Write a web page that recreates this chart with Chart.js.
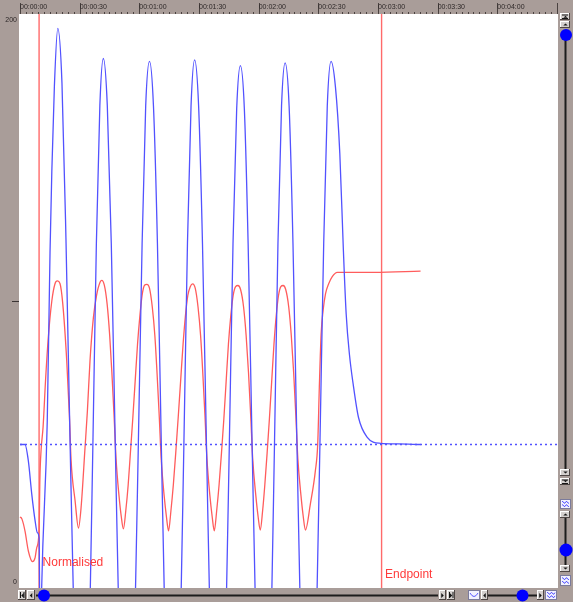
<!DOCTYPE html>
<html><head><meta charset="utf-8">
<script src="https://cdn.jsdelivr.net/npm/chart.js@4.4.0/dist/chart.umd.min.js"></script>
<style>html,body{margin:0;padding:0;background:#a99d99;overflow:hidden}canvas{display:block}</style>
</head><body>
<canvas id="c" width="573" height="602"></canvas>
<script>
// ---- data ----
const rulerTimes = [0, 30, 60, 90, 120, 150, 180, 210, 240];
const rulerLabels = ['00:00:00','00:00:30','00:01:00','00:01:30','00:02:00','00:02:30','00:03:00','00:03:30','00:04:00'];
const yTickValues = [0, 100, 200];
const yTickText = ['0', '', '200'];

const baselineTimes = [0, 270.5];
const baselineValues = [50, 50];

const blueTimes = [0,2.5,4.2,5.9,7.6,8.7,9.6,10.2,10.9,13.7,15.1,16.0,17.3,19.0,
21.1,23.1,25.2,27.3,29.3,31.4,
33.15,34.9,36.65,38.4,40.15,41.9,
43.9,45.9,47.9,49.9,51.9,53.9,
55.8,57.6,59.5,61.4,63.2,65.1,
67.1,69.1,71.05,73.0,75.0,77.0,
78.8,80.6,82.4,84.2,86.0,87.8,
89.8,91.75,93.75,95.7,97.7,99.7,
101.55,103.4,105.25,107.1,108.95,110.8,
112.8,114.7,116.7,118.7,120.6,122.6,
124.4,126.2,127.95,129.7,131.5,133.3,
135.3,137.25,139.25,141.2,143.2,145.2,
147.1,148.9,150.8,152.7,154.5,156.4,
158.6,160.8,162.6,164.0,165.7,167.5,170.2,174.6,181.3,190,201.4];
const blueValues = [50,50,44.3,32.8,23.4,19.3,17.5,-30,0,58,117,145,175,195,
176,122,50,-17,-66,-84,
-66,-17,50,120,168,184.5,
168,120,50,-17,-66,-84,
-66,-17,50,120,168,183.5,
168,120,50,-17,-66,-84,
-66,-17,50,120,168,184,
168,120,50,-17,-66,-84,
-66,-17,50,120,167,182,
167,120,50,-17,-66,-84,
-66,-17,50,120,168,183,
168,120,50,-17,-66,-84,
-66,-17,50,120,168,183.5,
174.6,151.4,117.6,95.5,81,71.1,59.4,52.5,50.4,50.2,50];

const redTimes = [0,1.0,2.5,4.2,6.3,7.6,8.4,9.6,10.0,10.6,11.6,12.9,14.2,16.0,17.6,18.8,
20.1,21.5,23.5,24.8,25.7,27.7,29.4,
30.7,32.7,33.9,35.2,36.9,38.5,40.3,41.1,
42.4,43.8,45.1,46.2,47.3,48.3,49.8,50.9,52.0,
53.2,54.4,55.5,56.7,57.9,59.1,60.3,61.4,62.6,63.8,
65.1,66.5,67.8,68.9,70.0,71.0,72.5,73.6,74.7,
75.9,77.1,78.3,79.5,80.75,82.0,83.2,84.4,85.6,86.8,
88.1,89.5,90.8,91.9,93.0,94.0,95.5,96.6,97.7,
98.9,100.1,101.3,102.5,103.65,104.8,106.0,107.2,108.4,109.6,
110.9,112.4,113.7,114.9,116.0,117.0,118.6,119.7,120.8,
122.0,123.1,124.25,125.4,126.55,127.7,128.85,130.0,131.15,132.3,
133.6,135.1,136.4,137.6,138.7,139.7,141.3,142.4,143.5,
146.0,148.5,149.7,150.5,151.4,152.4,153.6,155.2,157.0,159.5,178,201.4];
const redValues = [24.8,24,19.9,12.9,9.2,10.6,14,19.9,38,48,56,73,87,100,106,107,
106.1,99.1,79.2,60.7,44.3,30.4,20.9,
27.9,48.9,61.8,79.2,94.2,102,106.6,107.2,
105.5,99,88,75,60,45,32,25,20.6,
27,36,47,59,72,85,95,102,105.5,105.8,
104.5,98,88,75,60,45,32,25,19.9,
27,36,47,59,72,85,95,102,105,106,
104.5,98,88,75,60,45,32,25,19.9,
27,36,47,59,72,85,95,102,105,105.4,
104,98,88,75,60,45,32,25,20.2,
27,36,47,59,72,85,95,102,105,105.4,
104,98,88,75,60,45,32,25,20.2,
29.3,40.8,50.3,70,88.5,96.7,102.5,106,108.5,110,110,110.4];

const markerTimes = [9.6, 181.8];
const markerLabels = ['Normalised', 'Endpoint'];

// ---- styles ----
const GRAY = '#a99d99';
const BLUE = '#5252ff';
const RED = '#ff5c5c';
const markerLabelBaseline = [566, 578];

const pts = (xs, ys) => xs.map((x, i) => ({x, y: ys[i]}));

function raised(ctx, x, y, w, h) {
  ctx.fillStyle = '#d3cfcd'; ctx.fillRect(x, y, w, h);
  ctx.fillStyle = '#ffffff'; ctx.fillRect(x, y, w, 1); ctx.fillRect(x, y, 1, h);
  ctx.fillStyle = '#4e4644'; ctx.fillRect(x, y + h - 1, w, 1); ctx.fillRect(x + w - 1, y, 1, h);
}
function tri(ctx, cx, cy, dir, s) {
  ctx.fillStyle = '#151515'; ctx.beginPath();
  if (dir === 'up') { ctx.moveTo(cx - s, cy + s / 2); ctx.lineTo(cx + s, cy + s / 2); ctx.lineTo(cx, cy - s / 2); }
  if (dir === 'down') { ctx.moveTo(cx - s, cy - s / 2); ctx.lineTo(cx + s, cy - s / 2); ctx.lineTo(cx, cy + s / 2); }
  if (dir === 'left') { ctx.moveTo(cx + s / 2, cy - s); ctx.lineTo(cx + s / 2, cy + s); ctx.lineTo(cx - s / 2, cy); }
  if (dir === 'right') { ctx.moveTo(cx - s / 2, cy - s); ctx.lineTo(cx - s / 2, cy + s); ctx.lineTo(cx + s / 2, cy); }
  ctx.closePath(); ctx.fill();
}
function waveBtn(ctx, x, y, w, h, rows) {
  ctx.fillStyle = '#f2f2ff'; ctx.fillRect(x, y, w, h);
  ctx.strokeStyle = '#7b7b9c'; ctx.lineWidth = 1; ctx.strokeRect(x + 0.5, y + 0.5, w - 1, h - 1);
  ctx.strokeStyle = '#5a5aff'; ctx.lineWidth = 1;
  for (let r = 0; r < rows; r++) {
    const yy = y + h * (r + 1) / (rows + 1);
    ctx.beginPath();
    for (let i = 0; i <= w - 4; i++) {
      const px = x + 2 + i, py = yy + ((i % 4) < 2 ? -0.8 : 0.8);
      if (i === 0) ctx.moveTo(px, py); else ctx.lineTo(px, py);
    }
    ctx.stroke();
  }
}
function dot(ctx, cx, cy, r) {
  ctx.fillStyle = '#0000ff'; ctx.beginPath(); ctx.arc(cx, cy, r, 0, Math.PI * 2); ctx.fill();
}

const chromePlugin = {
  id: 'chrome',
  beforeDraw(chart) {
    const {ctx, chartArea: a} = chart;
    ctx.save();
    ctx.fillStyle = GRAY; ctx.fillRect(0, 0, chart.width, chart.height);
    ctx.fillStyle = '#ffffff'; ctx.fillRect(a.left, a.top, a.right - a.left, a.bottom - a.top);
    const xs = chart.scales.x;
    ctx.fillStyle = '#4a4240';
    xs.ticks.forEach(t => { const x = Math.round(xs.getPixelForValue(t.value)); ctx.fillRect(x, 3, 1, a.top - 3); });
    for (let s = 0; s <= xs.max; s += 3) {
      const x = Math.round(xs.getPixelForValue(s)); ctx.fillRect(x, a.top - 2, 1, 2);
    }
    ctx.restore();
  },
  beforeDatasetsDraw(chart) {
    const {ctx, chartArea: a} = chart;
    const xs = chart.scales.x;
    ctx.save();
    ctx.strokeStyle = 'rgba(255,90,90,0.9)'; ctx.lineWidth = 1.4;
    markerTimes.forEach(t => {
      const x = xs.getPixelForValue(t);
      ctx.beginPath(); ctx.moveTo(x, a.top); ctx.lineTo(x, a.bottom); ctx.stroke();
    });
    ctx.restore();
  },
  afterDatasetsDraw(chart) {
    const {ctx, chartArea: a} = chart;
    const xs = chart.scales.x;
    ctx.save();
    // marker labels
    ctx.fillStyle = '#ff3a3a'; ctx.font = '12px "Liberation Sans", Arial, sans-serif';
    ctx.textAlign = 'left'; ctx.textBaseline = 'alphabetic';
    markerTimes.forEach((t, i) => {
      ctx.fillText(markerLabels[i], xs.getPixelForValue(t) + 3.5, markerLabelBaseline[i]);
    });
    // frame bands
    ctx.fillStyle = GRAY;
    ctx.fillRect(0, a.bottom, chart.width, chart.height - a.bottom);
    ctx.fillRect(a.right, 0, chart.width - a.right, chart.height);
    // right column
    const rx = 560, rw = 10, cx = 565.5;
    ctx.fillStyle = '#1c1c1c';
    ctx.fillRect(cx - 1, 40, 2, 430);
    ctx.fillRect(cx - 1, 518, 2, 48);
    raised(ctx, rx, 13, rw, 7);
    ctx.fillStyle = '#151515'; ctx.fillRect(rx + 2, 14.5, 6, 1); ctx.fillRect(rx + 2, 18, 6, 1);
    tri(ctx, cx, 16.8, 'up', 2);
    raised(ctx, rx, 21, rw, 7); tri(ctx, cx, 24.5, 'up', 2.2);
    dot(ctx, 566, 35, 6);
    raised(ctx, rx, 469, rw, 7); tri(ctx, cx, 472.5, 'down', 2.2);
    raised(ctx, rx, 478, rw, 7);
    ctx.fillStyle = '#151515'; ctx.fillRect(rx + 2, 479.5, 6, 1); ctx.fillRect(rx + 2, 483, 6, 1);
    tri(ctx, cx, 481.3, 'down', 2);
    waveBtn(ctx, rx, 499, 11, 10, 2);
    raised(ctx, rx, 511, rw, 7); tri(ctx, cx, 514.5, 'up', 2.2);
    dot(ctx, 566, 550, 6.5);
    raised(ctx, rx, 565, rw, 7); tri(ctx, cx, 568.5, 'down', 2.2);
    waveBtn(ctx, rx, 575, 11, 11, 2);
    // bottom row
    const by = 590, bh = 10, cy = 595.5;
    ctx.fillStyle = '#1c1c1c';
    ctx.fillRect(36, cy - 1, 402, 2);
    ctx.fillRect(488, cy - 1, 50, 2);
    raised(ctx, 18, by, 8, bh);
    ctx.fillStyle = '#151515'; ctx.fillRect(20, by + 2, 1, 6); ctx.fillRect(23.5, by + 2, 1, 6);
    tri(ctx, 22.5, cy, 'left', 2.5);
    raised(ctx, 27, by, 8, bh); tri(ctx, 31, cy, 'left', 2.5);
    dot(ctx, 44, cy, 6);
    raised(ctx, 439, by, 7, bh); tri(ctx, 442.5, cy, 'right', 2.5);
    raised(ctx, 447, by, 8, bh);
    ctx.fillStyle = '#151515'; ctx.fillRect(449, by + 2, 1, 6); ctx.fillRect(452.5, by + 2, 1, 6);
    tri(ctx, 451, cy, 'right', 2.5);
    // wave (single curve) button
    ctx.fillStyle = '#f2f2ff'; ctx.fillRect(468, by, 12, bh);
    ctx.strokeStyle = '#7b7b9c'; ctx.lineWidth = 1; ctx.strokeRect(468.5, by + 0.5, 11, bh - 1);
    ctx.strokeStyle = '#5a5aff'; ctx.beginPath(); ctx.moveTo(470, by + 3); ctx.quadraticCurveTo(474, by + 10, 478, by + 3); ctx.stroke();
    raised(ctx, 481, by, 7, bh); tri(ctx, 484.5, cy, 'left', 2.5);
    dot(ctx, 522.5, cy, 6);
    raised(ctx, 537, by, 7, bh); tri(ctx, 540.5, cy, 'right', 2.5);
    waveBtn(ctx, 545, by, 12, bh, 2);
    ctx.restore();
  }
};

const tickFont = {family: '"Liberation Sans", Arial, sans-serif', size: 7};

new Chart(document.getElementById('c'), {
  type: 'line',
  data: {
    datasets: [
      {label: 'Baseline', data: pts(baselineTimes, baselineValues), borderColor: BLUE, borderWidth: 1.5,
       borderDash: [2, 3], pointRadius: 0, tension: 0},
      {label: 'Blue', data: pts(blueTimes, blueValues), borderColor: BLUE, borderWidth: 1.3,
       pointRadius: 0, cubicInterpolationMode: 'monotone'},
      {label: 'Red', data: pts(redTimes, redValues), borderColor: RED, borderWidth: 1.3,
       pointRadius: 0, cubicInterpolationMode: 'monotone'}
    ]
  },
  options: {
    responsive: false,
    devicePixelRatio: 1,
    animation: false,
    events: [],
    layout: {padding: {left: 0, right: 15, top: 0, bottom: 14}},
    plugins: {legend: {display: false}, tooltip: {enabled: false}},
    scales: {
      x: {
        type: 'linear', position: 'top', min: -0.5, max: 270.5,
        border: {display: false},
        grid: {display: false, drawTicks: false},
        afterFit(s) { s.height = 14; },
        ticks: {
          stepSize: 30, includeBounds: false, autoSkip: false, maxRotation: 0, minRotation: 0,
          align: 'start', padding: 3, color: '#2e2828', font: tickFont,
          callback: v => { const i = rulerTimes.indexOf(v); return i >= 0 ? rulerLabels[i] : ''; }
        }
      },
      y: {
        type: 'linear', position: 'left', min: 0, max: 200,
        border: {display: false},
        grid: {display: true, drawOnChartArea: false, drawTicks: true, tickLength: 7,
               tickColor: c => (c.tick && c.tick.value === 100) ? '#3a3434' : 'rgba(0,0,0,0)'},
        afterFit(s) { s.width = 19; },
        ticks: {
          stepSize: 100, autoSkip: false, padding: -5, color: '#2e2828',
          font: {family: '"Liberation Sans", Arial, sans-serif', size: 7, lineHeight: 1.6},
          callback: v => {
            const i = yTickValues.indexOf(v);
            if (i < 0 || yTickText[i] === '') return '';
            return v === 0 ? [yTickText[i], ''] : ['', yTickText[i]];
          }
        }
      }
    }
  },
  plugins: [chromePlugin]
});
</script>
</body></html>
